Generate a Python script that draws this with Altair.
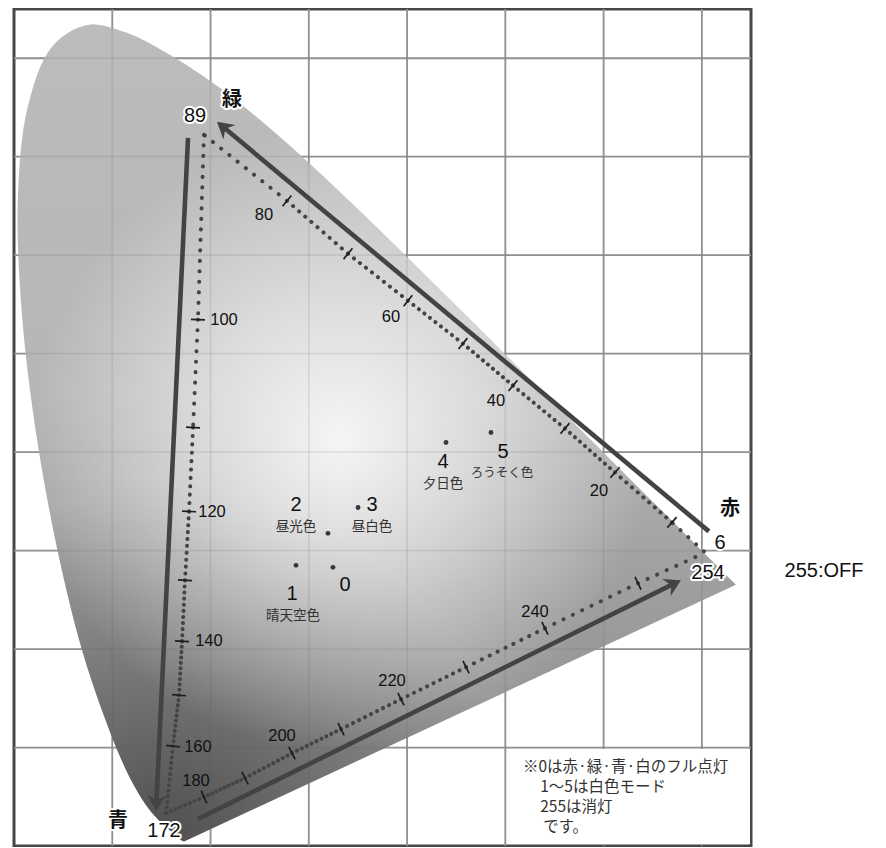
import math
import altair as alt
import pandas as pd

# ---------------- data ----------------
# CIE 1931 2-degree spectral locus (chromaticity x, y)
locus_nm = [380, 385, 390, 395, 400, 405, 410, 415, 420, 425, 430, 435, 440, 445, 450,
            455, 460, 465, 470, 475, 480, 485, 490, 495, 500, 505, 510, 515, 520, 525,
            530, 535, 540, 545, 550, 555, 560, 565, 570, 575, 580, 585, 590, 595, 600,
            605, 610, 615, 620, 625, 630, 635, 640, 645, 650, 660, 670, 680, 700]
locus_x = [0.1741, 0.1740, 0.1738, 0.1736, 0.1733, 0.1730, 0.1726, 0.1721, 0.1714, 0.1703,
           0.1689, 0.1669, 0.1644, 0.1611, 0.1566, 0.1510, 0.1440, 0.1355, 0.1241, 0.1096,
           0.0913, 0.0687, 0.0454, 0.0235, 0.0082, 0.0039, 0.0139, 0.0389, 0.0743, 0.1142,
           0.1547, 0.1929, 0.2296, 0.2658, 0.3016, 0.3373, 0.3731, 0.4087, 0.4441, 0.4788,
           0.5125, 0.5448, 0.5752, 0.6029, 0.6270, 0.6482, 0.6658, 0.6801, 0.6915, 0.7006,
           0.7079, 0.7140, 0.7190, 0.7230, 0.7260, 0.7300, 0.7320, 0.7334, 0.7347]
locus_y = [0.0050, 0.0050, 0.0049, 0.0049, 0.0048, 0.0048, 0.0048, 0.0048, 0.0051, 0.0058,
           0.0069, 0.0086, 0.0109, 0.0138, 0.0177, 0.0227, 0.0297, 0.0399, 0.0578, 0.0868,
           0.1327, 0.2007, 0.2950, 0.4127, 0.5384, 0.6548, 0.7502, 0.8120, 0.8338, 0.8262,
           0.8059, 0.7816, 0.7543, 0.7243, 0.6923, 0.6589, 0.6245, 0.5896, 0.5547, 0.5202,
           0.4866, 0.4544, 0.4242, 0.3965, 0.3725, 0.3514, 0.3340, 0.3197, 0.3083, 0.2993,
           0.2920, 0.2859, 0.2809, 0.2770, 0.2740, 0.2700, 0.2680, 0.2666, 0.2653]

grid_x = [0.1, 0.2, 0.3, 0.4, 0.5, 0.6, 0.7]
grid_y = [0.1, 0.2, 0.3, 0.4, 0.5, 0.6, 0.7, 0.8]

# colour-number scale along the triangle (6 = red ... 89 = green ... 172 = blue ... 254 = red)
scale_idx = [6, 10, 20, 30, 40, 50, 60, 70, 80, 89,
             100, 110, 120, 130, 140, 150, 160, 172,
             180, 190, 200, 210, 220, 230, 240, 250, 254]
scale_x = [0.7021, 0.6696, 0.6116, 0.5607, 0.5078, 0.4569, 0.4009, 0.3399, 0.2778, 0.1933,
           0.1872, 0.1822, 0.1781, 0.1740, 0.1710, 0.1679, 0.1618, 0.1547,
           0.1933, 0.2351, 0.2829, 0.3328, 0.3938, 0.4600, 0.5403, 0.6350, 0.6950]
scale_y = [0.2992, 0.3286, 0.3793, 0.4240, 0.4676, 0.5102, 0.5538, 0.6015, 0.6552, 0.7222,
           0.5345, 0.4250, 0.3398, 0.2698, 0.2079, 0.1532, 0.1014, 0.0335,
           0.0497, 0.0690, 0.0943, 0.1187, 0.1491, 0.1816, 0.2211, 0.2668, 0.2941]

tl_text = ["20", "40", "60", "80", "100", "120", "140", "160", "180", "200", "220", "240"]
tl_x = [0.5953, 0.4905, 0.3836, 0.2544, 0.2137, 0.2015, 0.1984, 0.1872, 0.1852, 0.2727, 0.3847, 0.5302]
tl_y = [0.3601, 0.4524, 0.5376, 0.6410, 0.5345, 0.3388, 0.2079, 0.1004, 0.0659, 0.1116, 0.1674, 0.2373]

# white-mode points
pt_id = ["0", "1", "2", "3", "4", "5"]
pt_x = [0.3246, 0.2870, 0.3195, 0.3501, 0.4396, 0.4854]
pt_y = [0.2830, 0.2850, 0.3175, 0.3438, 0.4098, 0.4199]
num_x = [0.3368, 0.2829, 0.2870, 0.3643, 0.4366, 0.4976]
num_y = [0.2647, 0.2556, 0.3459, 0.3459, 0.3895, 0.4006]
name_text = ["晴天空色", "昼光色", "昼白色", "夕日色", "ろうそく色"]
name_x = [0.2839, 0.2870, 0.3643, 0.4366, 0.4966]
name_y = [0.2333, 0.3236, 0.3236, 0.3672, 0.3784]

# arrows (start -> tip)
arrow_x0 = [0.7072, 0.1771, 0.1872]
arrow_y0 = [0.3195, 0.7191, 0.0274]
arrow_x1 = [0.2066, 0.1445, 0.6787]
arrow_y1 = [0.7354, 0.0355, 0.2698]

# primary labels
kanji_text = ["緑", "赤", "青"]
kanji_x = [0.2218, 0.7286, 0.1058]
kanji_y = [0.7577, 0.3418, 0.0254]
vnum_text = ["89", "6", "254", "172"]
vnum_x = [0.1842, 0.7184, 0.7062, 0.1526]
vnum_y = [0.7415, 0.3073, 0.2769, 0.0152]

off_text = ["255:OFF"]
off_x = [0.8243]
off_y = [0.2789]

note_lines = ["※0は赤·緑·青·白のフル点灯", "1～5は白色モード", "255は消灯", "です。"]
note_x = [0.518, 0.5355, 0.5355, 0.5385]
note_y = [0.0801, 0.0598, 0.0396, 0.0193]

box_x = [0.502]
box_x2 = [0.749]
box_y = [0.002]
box_y2 = [0.0985]

# ---------------- geometry helpers ----------------
W, H = 737, 837
XD, YD = [0, 0.75], [0, 0.85]
SX, SY = W / 0.75, H / 0.85


def X(f):
    return alt.X(f, type="quantitative", scale=alt.Scale(domain=XD, nice=False, zero=False), axis=None)


def Y(f, axis=None):
    return alt.Y(f, type="quantitative", scale=alt.Scale(domain=YD, nice=False, zero=False), axis=axis)


locus_df = pd.DataFrame({"i": list(range(len(locus_nm))), "x": locus_x, "y": locus_y})

# dotted triangle segments, dot spacing from index spacing
seg_rows = []
for a in range(len(scale_idx) - 1):
    x0, y0, x1, y1 = scale_x[a], scale_y[a], scale_x[a + 1], scale_y[a + 1]
    L = math.hypot((x1 - x0) * SX, (y1 - y0) * SY)
    n = scale_idx[a + 1] - scale_idx[a]
    p = min(L / n, 10.5)
    seg_rows.append({"x": x0, "y": y0, "x2": x1, "y2": y1, "dash": [0.1, round(p - 0.1, 3)]})
seg_df = pd.DataFrame(seg_rows)

tick_rows = []
for a, idx in enumerate(scale_idx):
    if idx % 10 == 0:
        dx = (scale_x[a + 1] - scale_x[a - 1]) * SX
        dy = -(scale_y[a + 1] - scale_y[a - 1]) * SY
        ang = (math.degrees(math.atan2(dy, dx)) + 90) % 180
        tick_rows.append({"x": scale_x[a], "y": scale_y[a], "ang": ang})
tick_df = pd.DataFrame(tick_rows)

arr_rows = []
for a in range(len(arrow_x0)):
    dx = (arrow_x1[a] - arrow_x0[a]) * SX
    dy = -(arrow_y1[a] - arrow_y0[a]) * SY
    L = math.hypot(dx, dy)
    ux, uy = dx / L, dy / L
    theta = math.degrees(math.atan2(dy, dx))
    arr_rows.append({
        "x": arrow_x0[a], "y": arrow_y0[a],
        "x2": arrow_x1[a] - 7 * ux / SX, "y2": arrow_y1[a] + 7 * uy / SY,
        "tx": arrow_x1[a], "ty": arrow_y1[a],
        "ang": (theta + 90) % 360,
    })
arr_df = pd.DataFrame(arr_rows)

# ---------------- layers ----------------
base_grad = alt.LinearGradient(
    gradient="linear", x1=0, y1=0, x2=0, y2=1,
    stops=[alt.GradientStop(offset=0, color="#bcbcbc"),
           alt.GradientStop(offset=0.45, color="#b6b6b6"),
           alt.GradientStop(offset=0.7, color="#9e9e9e"),
           alt.GradientStop(offset=1, color="#8a8a8a")])
dark_grad = alt.RadialGradient(
    gradient="radial", x1=0.24, y1=0.987, r1=0, x2=0.24, y2=0.987, r2=0.42,
    stops=[alt.GradientStop(offset=0, color="rgba(0,0,0,0.42)"),
           alt.GradientStop(offset=0.5, color="rgba(0,0,0,0.2)"),
           alt.GradientStop(offset=1, color="rgba(0,0,0,0)")])
light_grad = alt.RadialGradient(
    gradient="radial", x1=0.455, y1=0.509, r1=0, x2=0.455, y2=0.509, r2=0.38,
    stops=[alt.GradientStop(offset=0, color="rgba(255,255,255,0.88)"),
           alt.GradientStop(offset=0.45, color="rgba(255,255,255,0.52)"),
           alt.GradientStop(offset=1, color="rgba(255,255,255,0)")])

gx_df = pd.DataFrame({"gx": grid_x})
gy_df = pd.DataFrame({"gy": grid_y})

grid_v = alt.Chart(gx_df).mark_rule(color="#9a9a9a", strokeWidth=1.8).encode(x=X("gx"))
grid_h = alt.Chart(gy_df).mark_rule(color="#9a9a9a", strokeWidth=1.8).encode(
    y=Y("gy", axis=alt.Axis(values=grid_y, labels=False, ticks=True, tickSize=8,
                             tickColor="#8a8a8a", tickWidth=2, domain=False, grid=False, title=None)))


def locus_layer(grad):
    return alt.Chart(locus_df).mark_line(fill=grad, stroke="transparent", interpolate="catmull-rom").encode(
        x=X("x"), y=Y("y"), order=alt.Order("i:Q"))


fill_base = locus_layer(base_grad)
fill_dark = locus_layer(dark_grad)
fill_light = locus_layer(light_grad)

faint_v = alt.Chart(gx_df).mark_rule(color="#555555", opacity=0.12, strokeWidth=1.8).encode(x=X("gx"))
faint_h = alt.Chart(gy_df).mark_rule(color="#555555", opacity=0.12, strokeWidth=1.8).encode(y=Y("gy"))

box = alt.Chart(pd.DataFrame({"x": box_x, "x2": box_x2, "y": box_y, "y2": box_y2})).mark_rect(
    color="white").encode(x=X("x"), x2="x2", y=Y("y"), y2="y2")

dots = alt.Chart(seg_df).mark_rule(color="#444444", strokeWidth=4.0, strokeCap="round").encode(
    x=X("x"), y=Y("y"), x2="x2", y2="y2",
    strokeDash=alt.StrokeDash("dash", scale=None, legend=None))

ticks = alt.Chart(tick_df).mark_point(shape="stroke", size=196, strokeWidth=1.7, color="#1e1e1e",
                                      filled=False, opacity=1).encode(
    x=X("x"), y=Y("y"), angle=alt.Angle("ang:Q", scale=None))

tick_lab = alt.Chart(pd.DataFrame({"t": tl_text, "x": tl_x, "y": tl_y})).mark_text(
    font="Liberation Sans", fontSize=16.5, color="#111111", align="center", baseline="middle").encode(
    x=X("x"), y=Y("y"), text="t:N")

arrow_lines = alt.Chart(arr_df).mark_rule(color="#434343", strokeWidth=4.6, strokeCap="butt").encode(
    x=X("x"), y=Y("y"), x2="x2", y2="y2")
arrow_heads = alt.Chart(arr_df).mark_point(
    shape="M0,0L1,1.7L0,1.15L-1,1.7Z", size=360, filled=True, color="#434343", opacity=1,
    strokeWidth=0).encode(x=X("tx"), y=Y("ty"), angle=alt.Angle("ang:Q", scale=None))

pts = alt.Chart(pd.DataFrame({"id": pt_id, "x": pt_x, "y": pt_y})).mark_circle(
    size=24, color="#3a3a3a", opacity=1).encode(x=X("x"), y=Y("y"))
pt_nums = alt.Chart(pd.DataFrame({"t": pt_id, "x": num_x, "y": num_y})).mark_text(
    font="Liberation Sans", fontSize=20, color="#111111", align="center", baseline="middle").encode(
    x=X("x"), y=Y("y"), text="t:N")
pt_names_df = pd.DataFrame({"t": name_text, "x": name_x, "y": name_y})
pt_names = alt.Chart(pt_names_df).transform_filter("datum.t != 'ろうそく色'").mark_text(
    font="Noto Sans CJK JP", fontSize=13.5, color="#333333", align="center", baseline="middle").encode(
    x=X("x"), y=Y("y"), text="t:N")
pt_names2 = alt.Chart(pt_names_df).transform_filter("datum.t == 'ろうそく色'").mark_text(
    font="Noto Sans CJK JP", fontSize=12.5, color="#333333", align="center", baseline="middle").encode(
    x=X("x"), y=Y("y"), text="t:N")

kanji_df = pd.DataFrame({"t": kanji_text, "x": kanji_x, "y": kanji_y})
vnum_df = pd.DataFrame({"t": vnum_text, "x": vnum_x, "y": vnum_y})


def label(df, font, size, weight, halo):
    kw = dict(font=font, fontSize=size, fontWeight=weight, align="center", baseline="middle")
    if halo:
        kw.update(stroke="white", strokeWidth=4, strokeJoin="round", fill="white")
    else:
        kw.update(color="#111111")
    return alt.Chart(df).mark_text(**kw).encode(x=X("x"), y=Y("y"), text="t:N")


kanji_halo = label(kanji_df, "Noto Sans CJK JP", 20, "bold", True)
kanji_lab = label(kanji_df, "Noto Sans CJK JP", 20, "bold", False)
vnum_halo = label(vnum_df, "Liberation Sans", 20, "normal", True)
vnum_lab = label(vnum_df, "Liberation Sans", 20, "normal", False)

off_lab = alt.Chart(pd.DataFrame({"t": off_text, "x": off_x, "y": off_y})).mark_text(
    font="Liberation Sans", fontSize=20, color="#111111", align="center", baseline="middle").encode(
    x=X("x"), y=Y("y"), text="t:N")

note = alt.Chart(pd.DataFrame({"t": note_lines, "x": note_x, "y": note_y})).mark_text(
    font="Noto Sans CJK JP", fontSize=15.5, color="#333333", align="left", baseline="middle").encode(
    x=X("x"), y=Y("y"), text="t:N")

chart = alt.layer(
    grid_v, grid_h, fill_base, fill_dark, fill_light, faint_v, faint_h, box,
    dots, ticks, tick_lab, arrow_lines, arrow_heads, pts, pt_nums, pt_names, pt_names2,
    kanji_halo, kanji_lab, vnum_halo, vnum_lab, off_lab, note,
).properties(
    width=W, height=H, autosize="none",
    padding={"left": 6, "top": 1, "right": 127, "bottom": 1},
    background="white",
).configure_view(stroke="#474747", strokeWidth=3)

chart.save("out.html", embed_options={"renderer": "svg", "actions": False})
